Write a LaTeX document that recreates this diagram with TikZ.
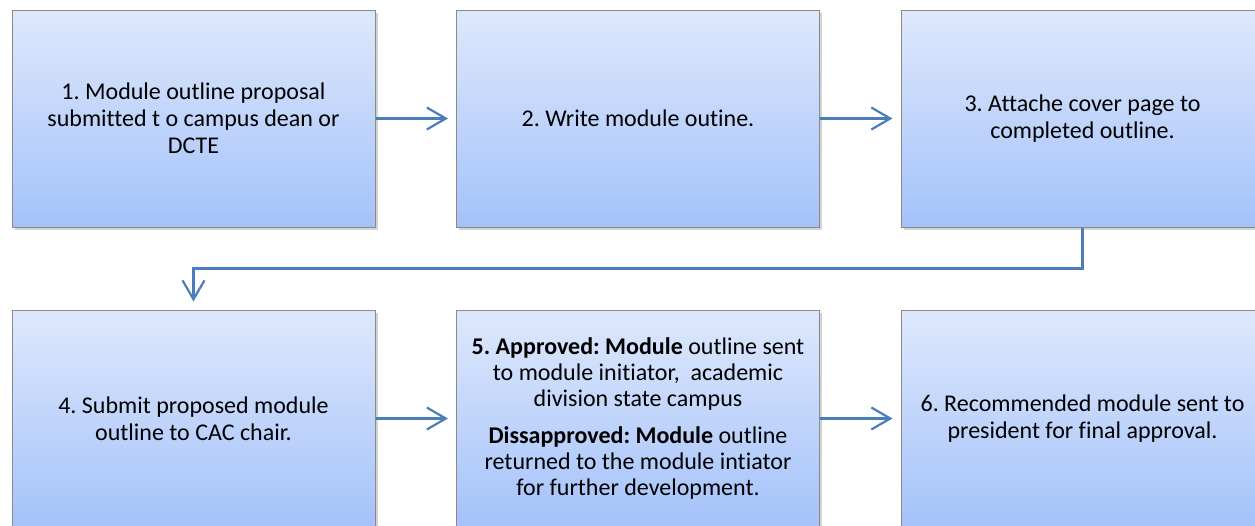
\documentclass[tikz,border=0pt]{standalone}
\usepackage{fontspec}
\setmainfont{Carlito}[Ligatures={NoCommon}]
\usetikzlibrary{arrows.meta,shadows}
\definecolor{boxtop}{RGB}{222,232,252}
\definecolor{boxbot}{RGB}{164,194,250}
\definecolor{boxedge}{RGB}{138,138,138}
\definecolor{flow}{RGB}{74,126,187}
\frenchspacing
\tikzset{
  stepbox/.style={draw=boxedge, line width=1pt, top color=boxtop, bottom color=boxbot,
    minimum width=363pt, minimum height=217pt, align=center, inner sep=0pt,
    font=\fontsize{24}{27}\selectfont,
    drop shadow={shadow xshift=2.5pt, shadow yshift=-3pt, opacity=0.35}},
  flowarrow/.style={draw=flow, line width=2.2pt,
    -{Straight Barb[length=19pt,width=22pt,line width=2.2pt]}, shorten >=8pt}
}
\begin{document}
\begin{tikzpicture}[x=1pt,y=-1pt]
\useasboundingbox (0,0) rectangle (1255,525);
% top row
\node[stepbox] (s1) at (193.5,118.5) {1. Module outline proposal\\submitted t o campus dean or\\DCTE};
\node[stepbox] (s2) at (638,118.5) {2. Write module outine.};
\node[stepbox] (s3) at (1082.5,118.5) {3. Attache cover page to\\completed outline.};
% bottom row
\node[stepbox] (s4) at (193.5,418.5) {4. Submit proposed module\\outline to CAC chair.};
\node[stepbox, font=\fontsize{24}{25.7}\selectfont] (s5) at (638,418.5) {\textbf{5. Approved: Module} outline sent\\to module initiator,\ \ academic\\division state campus\\[12pt]\textbf{Dissapproved: Module} outline\\returned to the module intiator\\for further development.};
\node[stepbox] (s6) at (1082.5,418.5) {6. Recommended module sent to\\president for final approval.};
% connectors
\draw[flowarrow] (s1) -- (s2);
\draw[flowarrow] (s2) -- (s3);
\draw[flowarrow] (s3.south) -- ++(0,41) -| (s4.north);
\draw[flowarrow] (s4) -- (s5);
\draw[flowarrow] (s5) -- (s6);
\end{tikzpicture}
\end{document}
